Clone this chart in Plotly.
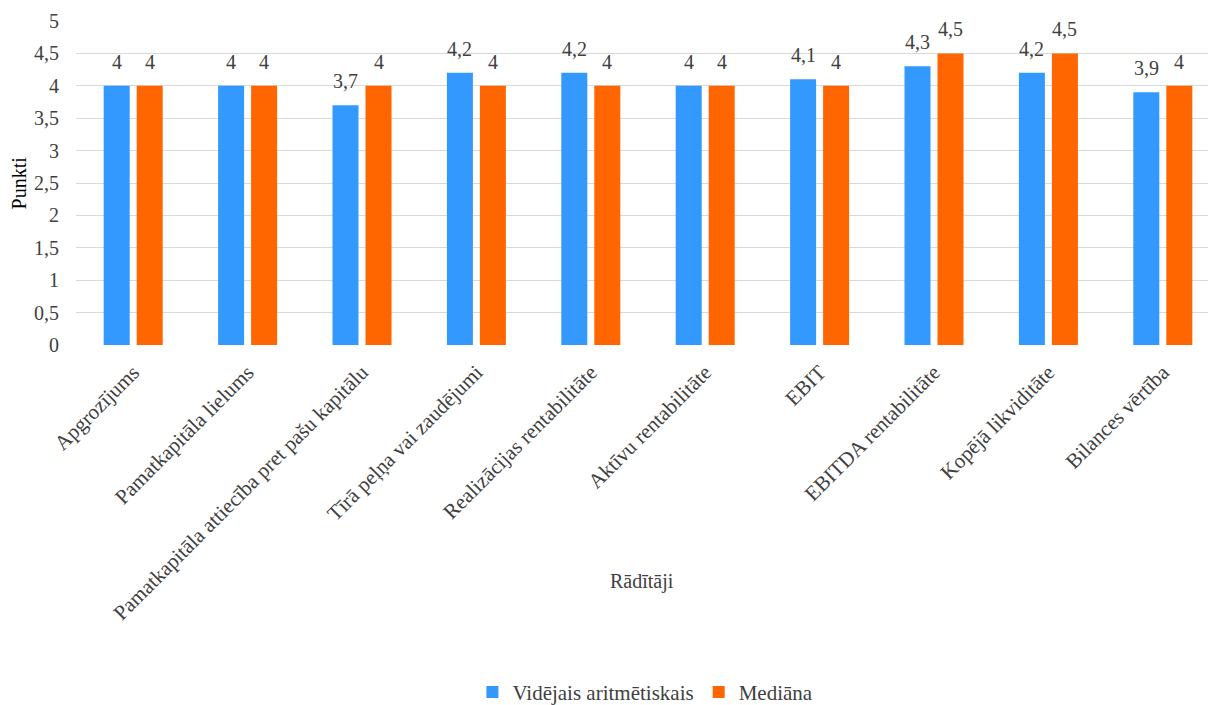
import plotly.graph_objects as go

categories = ["Apgrozījums", "Pamatkapitāla lielums", "Pamatkapitāla attiecība pret pašu kapitālu",
              "Tīrā peļņa vai zaudējumi", "Realizācijas rentabilitāte", "Aktīvu rentabilitāte",
              "EBIT", "EBITDA rentabilitāte", "Kopējā likviditāte", "Bilances vērtība"]
mean_vals = [4, 4, 3.7, 4.2, 4.2, 4, 4.1, 4.3, 4.2, 3.9]
median_vals = [4, 4, 4, 4, 4, 4, 4, 4.5, 4.5, 4]
y_ticks = [0, 0.5, 1, 1.5, 2, 2.5, 3, 3.5, 4, 4.5, 5]
series_names = ["Vidējais aritmētiskais", "Mediāna"]
series_colors = ["#3399FF", "#FF6600"]

FONT = "Liberation Serif, Times New Roman, serif"
TXT = "#404040"


def fmt(v):
    return (f"{v:g}").replace(".", ",")


fig = go.Figure()
for name, vals, col in zip(series_names, [mean_vals, median_vals], series_colors):
    fig.add_trace(go.Bar(x=categories, y=vals, name=name,
                         marker=dict(color=col, line=dict(width=0))))

# data labels above bars
for vals, shift in [(mean_vals, -16.5), (median_vals, 16.5)]:
    for c, v in zip(categories, vals):
        fig.add_annotation(x=c, y=v, xref="x", yref="y", text=fmt(v), showarrow=False,
                           xshift=shift, yshift=11, yanchor="bottom",
                           font=dict(family=FONT, size=20, color=TXT))

# axis titles as annotations
fig.add_annotation(x=0.5, y=-0.731, xref="paper", yref="paper", text="Rādītāji", showarrow=False,
                   xanchor="center", yanchor="middle", font=dict(family=FONT, size=20, color=TXT))
fig.add_annotation(x=-0.05, y=0.5, xref="paper", yref="paper", text="Punkti", showarrow=False,
                   textangle=-90, xanchor="center", yanchor="middle",
                   font=dict(family=FONT, size=20, color="#000000"))

fig.update_layout(
    width=1208, height=705,
    margin=dict(l=76, r=0, t=21, b=360, autoexpand=False),
    paper_bgcolor="white", plot_bgcolor="white",
    font=dict(family=FONT, size=20, color=TXT),
    barmode="group", bargap=0.423, bargroupgap=0.212,
    showlegend=True,
    legend=dict(orientation="h", x=0.503, xanchor="center", y=-1.072, yanchor="middle",
                font=dict(family=FONT, size=21, color=TXT),
                traceorder="normal", entrywidth=0, itemwidth=30),
)
fig.update_yaxes(range=[0, 5], tickvals=y_ticks, ticktext=[fmt(v) for v in y_ticks],
                 showgrid=True, gridcolor="#D9D9D9", gridwidth=1.3, zeroline=False,
                 showline=False, ticks="", ticklabelstandoff=16, automargin=False,
                 tickfont=dict(family=FONT, size=20, color=TXT))
fig.update_xaxes(range=[-0.5, 9.395], tickangle=-45, showgrid=False, showline=False, ticks="",
                 ticklabelstandoff=10, automargin=False,
                 tickfont=dict(family=FONT, size=21, color=TXT))

fig.write_html("out.html")
